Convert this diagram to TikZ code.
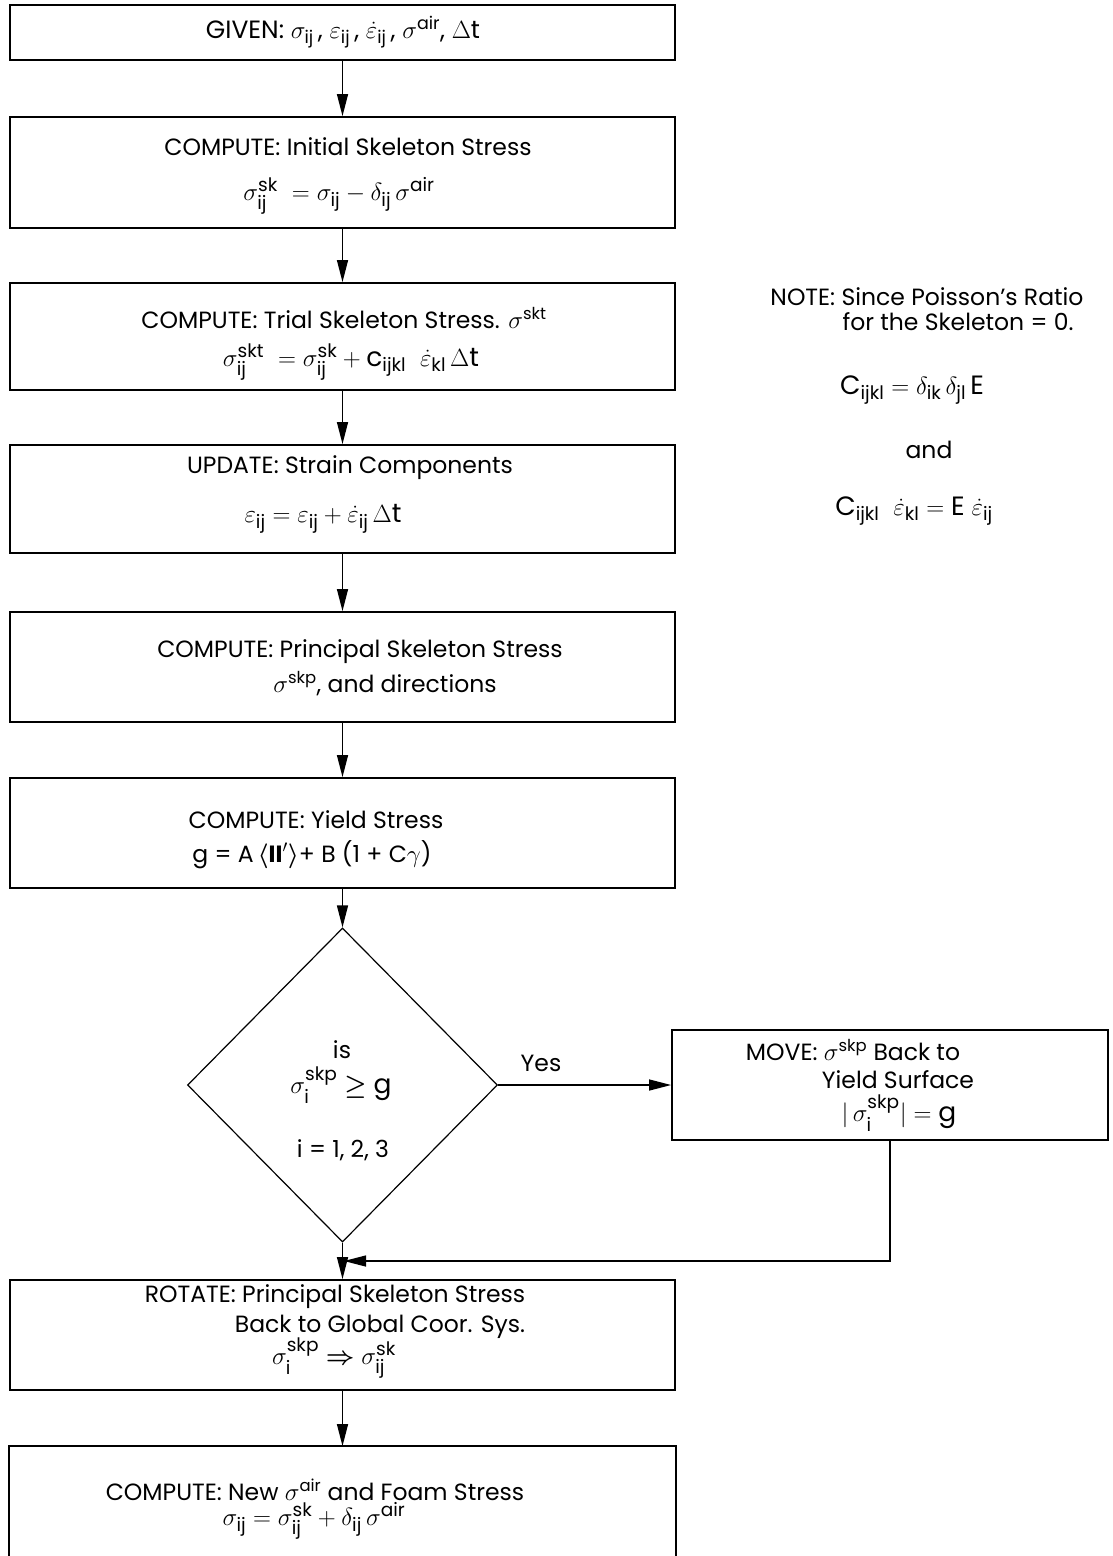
\documentclass[tikz,border=0pt]{standalone}
\usepackage{amsmath}
\usepackage{fontspec}
\setmainfont{Poppins}
\usetikzlibrary{arrows.meta,shapes.geometric}
\newcommand{\tx}[1]{\text{#1}}
\begin{document}
\begin{tikzpicture}[x=1pt,y=-1pt,
  box/.style={draw,line width=1.8pt,minimum width=665pt,inner sep=0pt},
  lbl/.style={inner sep=0pt,font=\fontsize{23.5}{28}\selectfont},
  eq/.style={inner sep=0pt,font=\fontsize{26.5}{30}\selectfont},
  conn/.style={line width=1.3pt,-{Triangle[length=22pt,width=11pt]}},
 ]
\useasboundingbox (0,0) rectangle (1112,1556);

% boxes
\node[box,minimum height=55pt]  (b1) at (342.5,32.5) {};
\node[box,minimum height=111pt] (b2) at (342.5,172.5) {};
\node[box,minimum height=107pt] (b3) at (342.5,336.5) {};
\node[box,minimum height=108pt] (b4) at (342.5,499) {};
\node[box,minimum height=110pt] (b5) at (342.5,667) {};
\node[box,minimum height=110pt] (b6) at (342.5,833) {};
\node[draw,shape=diamond,line width=1.2pt,minimum width=310pt,minimum height=314pt,inner sep=0pt] (dia) at (342.5,1085) {};
\node[box,minimum width=436pt,minimum height=110pt] (mv) at (890,1085) {};
\node[box,minimum height=110pt] (b7) at (342.5,1335) {};
\node[box,draw=none,minimum height=109pt] (b8) at (342.5,1501.5) {};
\draw[line width=1.8pt] (b8.south west) -- (b8.north west) -- (b8.north east) -- (b8.south east);

% texts
\node[lbl,font=\fontsize{25}{30}\selectfont] (t1) at (343,32) {GIVEN: $\sigma_{\tx{ij}}$\,, $\varepsilon_{\tx{ij}}$\,, $\dot{\varepsilon}_{\tx{ij}}$\,, $\sigma^{\tx{air}}$, $\Delta$t};
\node[lbl] (t2a) at (348,147) {COMPUTE: Initial Skeleton Stress};
\node[eq] (t2b) at (339,196) {$\sigma^{\tx{sk}}_{\tx{ij}}\ = \sigma_{\tx{ij}} - \delta_{\tx{ij}}\,\sigma^{\tx{air}}$};
\node[lbl] (t3a) at (344,318) {COMPUTE: Trial Skeleton Stress. $\sigma^{\tx{skt}}$};
\node[eq] (t3b) at (351,362) {$\sigma^{\tx{skt}}_{\tx{ij}}\ = \sigma^{\tx{sk}}_{\tx{ij}} + \tx{c}_{\tx{ijkl}}\;\;\dot{\varepsilon}_{\tx{kl}}\,\Delta\tx{t}$};
\node[lbl] (t4a) at (350,468) {UPDATE: Strain Components};
\node[eq] (t4b) at (323,519) {$\varepsilon_{\tx{ij}} = \varepsilon_{\tx{ij}} + \dot{\varepsilon}_{\tx{ij}}\,\Delta\tx{t}$};
\node[lbl] (t5a) at (360,652) {COMPUTE: Principal Skeleton Stress};
\node[lbl] (t5b) at (385,684) {$\sigma^{\tx{skp}}$, and directions};
\node[lbl] (t6a) at (316,820) {COMPUTE: Yield Stress};
\node[lbl] (t6b) at (312,855) {g = A\,$\boldsymbol{\langle}\mathbf{II}'\boldsymbol{\rangle}$+ B (1 + C$\gamma$)};
\node[lbl] (tda) at (342,1050) {is};
\node[eq] (tdb) at (341,1085) {$\sigma^{\tx{skp}}_{\tx{i}}\boldsymbol{\geq}$ g};
\node[lbl] (tdc) at (343,1150) {i = 1, 2, 3};
\node[lbl] (tyes) at (541,1063) {Yes};
\node[lbl] (tma) at (853,1050) {MOVE: $\sigma^{\tx{skp}}$ Back to};
\node[lbl] (tmb) at (898,1080) {Yield Surface};
\node[eq] (tmc) at (899,1113) {$|\,\sigma^{\tx{skp}}_{\tx{i}}| = \tx{g}$};
\node[lbl] (t7a) at (335,1297) {ROTATE: Principal Skeleton Stress};
\node[lbl] (t7b) at (380,1327) {Back to Global Coor. Sys.};
\node[eq] (t7c) at (334,1358) {$\sigma^{\tx{skp}}_{\tx{i}} \boldsymbol{\Rightarrow} \sigma^{\tx{sk}}_{\tx{ij}}$};
\node[lbl] (t8a) at (315,1490) {COMPUTE: New $\sigma^{\tx{air}}$ and Foam Stress};
\node[eq] (t8b) at (314,1521) {$\sigma_{\tx{ij}} = \sigma^{\tx{sk}}_{\tx{ij}} + \delta_{\tx{ij}}\,\sigma^{\tx{air}}$};
% note
\node[lbl] (n1) at (927,297) {NOTE: Since Poisson's Ratio};
\node[lbl] (n2) at (958,322) {for the Skeleton = 0.};
\node[eq] (n3) at (912,390) {$\tx{C}_{\tx{ijkl}} = \delta_{\tx{ik}}\,\delta_{\tx{jl}}\,\tx{E}$};
\node[lbl] (n4) at (929,450) {and};
\node[eq] (n5) at (914,511) {$\tx{C}_{\tx{ijkl}}\;\;\dot{\varepsilon}_{\tx{kl}} = \tx{E}\;\dot{\varepsilon}_{\tx{ij}}$};

% connectors
\draw[conn] (b1) -- (b2);
\draw[conn] (b2) -- (b3);
\draw[conn] (b3) -- (b4);
\draw[conn] (b4) -- (b5);
\draw[conn] (b5) -- (b6);
\draw[conn] (b6) -- (dia);
\draw[conn] (dia.east) -- (mv.west);
\draw[conn] (dia.south) -- (b7.north);
\coordinate (fb) at (344,1261);
\draw[conn] (mv.south) |- (fb);
\draw[conn] (b7) -- (b8);
\end{tikzpicture}
\end{document}
